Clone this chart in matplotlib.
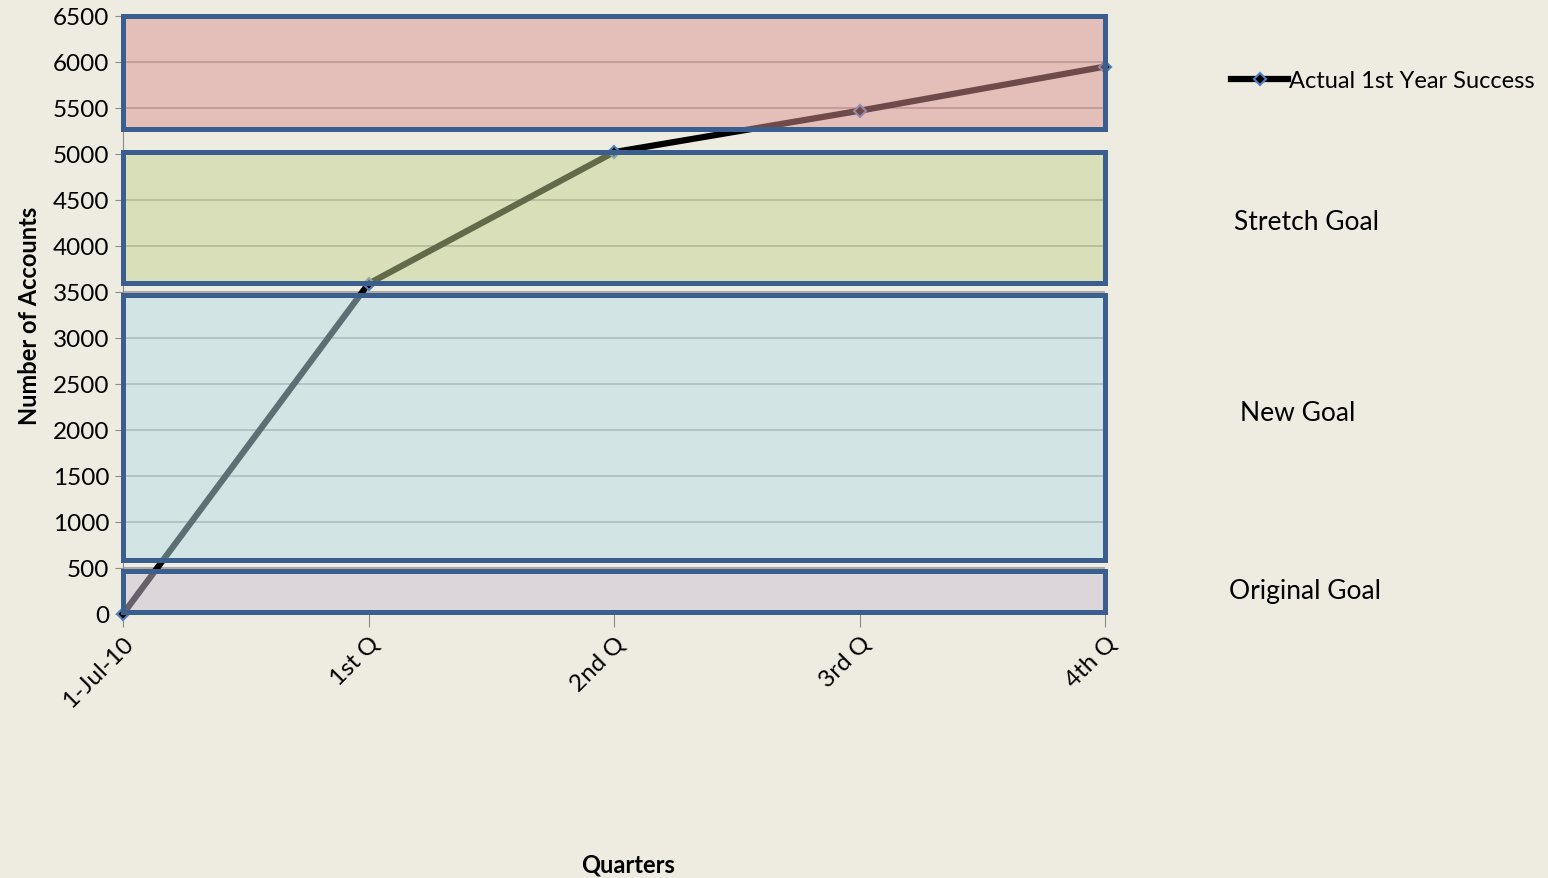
import matplotlib

matplotlib.use("Agg")
import matplotlib.patches as mpatches
import matplotlib.pyplot as plt

plt.rcParams["font.family"] = ["Lato", "DejaVu Sans"]

quarters = ["1-Jul-10", "1st Q", "2nd Q", "3rd Q", "4th Q"]
accounts = [0, 3590, 5020, 5470, 5950]

# goal bands: (low, high, fill colour, label)
band_low = [5270, 3600, 590, 20]
band_high = [6500, 5020, 3465, 465]
band_fill = ["#DC9494", "#C4D494", "#B8E0E8", "#CCC1D6"]
band_label = [None, "Stretch Goal", "New Goal", "Original Goal"]
label_pos = [None, (1306, 222), (1298, 414), (1305, 591)]

BG = "#EEEBE0"
EDGE = "#3A5F8E"

fig = plt.figure(figsize=(15.48, 8.79), dpi=100, facecolor=BG)
ax = fig.add_axes([123 / 1548, 1 - 615 / 879, (1105 - 123) / 1548, (615 - 17) / 879])
ax.set_facecolor(BG)

x = list(range(len(quarters)))
line, = ax.plot(x, accounts, color="black", lw=4.5, marker="D", ms=6,
                mfc="black", mec="#4F81BD", mew=1.5, zorder=3, clip_on=False,
                label="Actual 1st Year Success")

for lo, hi, fc in zip(band_low, band_high, band_fill):
    ax.add_patch(mpatches.Rectangle((0, lo), 4, hi - lo, facecolor=fc, alpha=0.5,
                                    edgecolor="none", zorder=4, clip_on=False))
    ax.add_patch(mpatches.Rectangle((0, lo), 4, hi - lo, facecolor="none",
                                    edgecolor=EDGE, lw=3.6, zorder=5, clip_on=False))

ax.set_xlim(0, 4)
ax.set_ylim(0, 6500)
ax.set_yticks(range(0, 6501, 500))
ax.set_xticks(x)
ax.set_xticklabels(quarters, rotation=45, ha="right", rotation_mode="anchor")
ax.yaxis.grid(True, color="#A09E98", lw=1.2, zorder=1)
ax.set_axisbelow(True)
for s in ["top", "right", "bottom"]:
    ax.spines[s].set_visible(False)
ax.spines["left"].set_color("#8C8C8C")
ax.tick_params(axis="y", labelsize=17.5, length=6, color="#8C8C8C", pad=4)
ax.tick_params(axis="x", labelsize=17.5, length=9, color="#8C8C8C", pad=4)

ax.set_ylabel("Number of Accounts", fontsize=17, fontweight="bold", labelpad=8)
fig.text(628 / 1548, 1 - 865 / 879, "Quarters", fontsize=17, fontweight="bold",
         ha="center", va="center")

for lab, pos in zip(band_label, label_pos):
    if lab:
        fig.text(pos[0] / 1548, 1 - pos[1] / 879, lab, fontsize=19,
                 ha="center", va="center")

leg = fig.legend(handles=[line], loc="center left", frameon=False, fontsize=17,
                 bbox_to_anchor=(1222 / 1548, 1 - 82 / 879), handlelength=2.4,
                 handletextpad=0.05, borderaxespad=0)

fig.savefig("out.png", dpi=100, facecolor=BG)
